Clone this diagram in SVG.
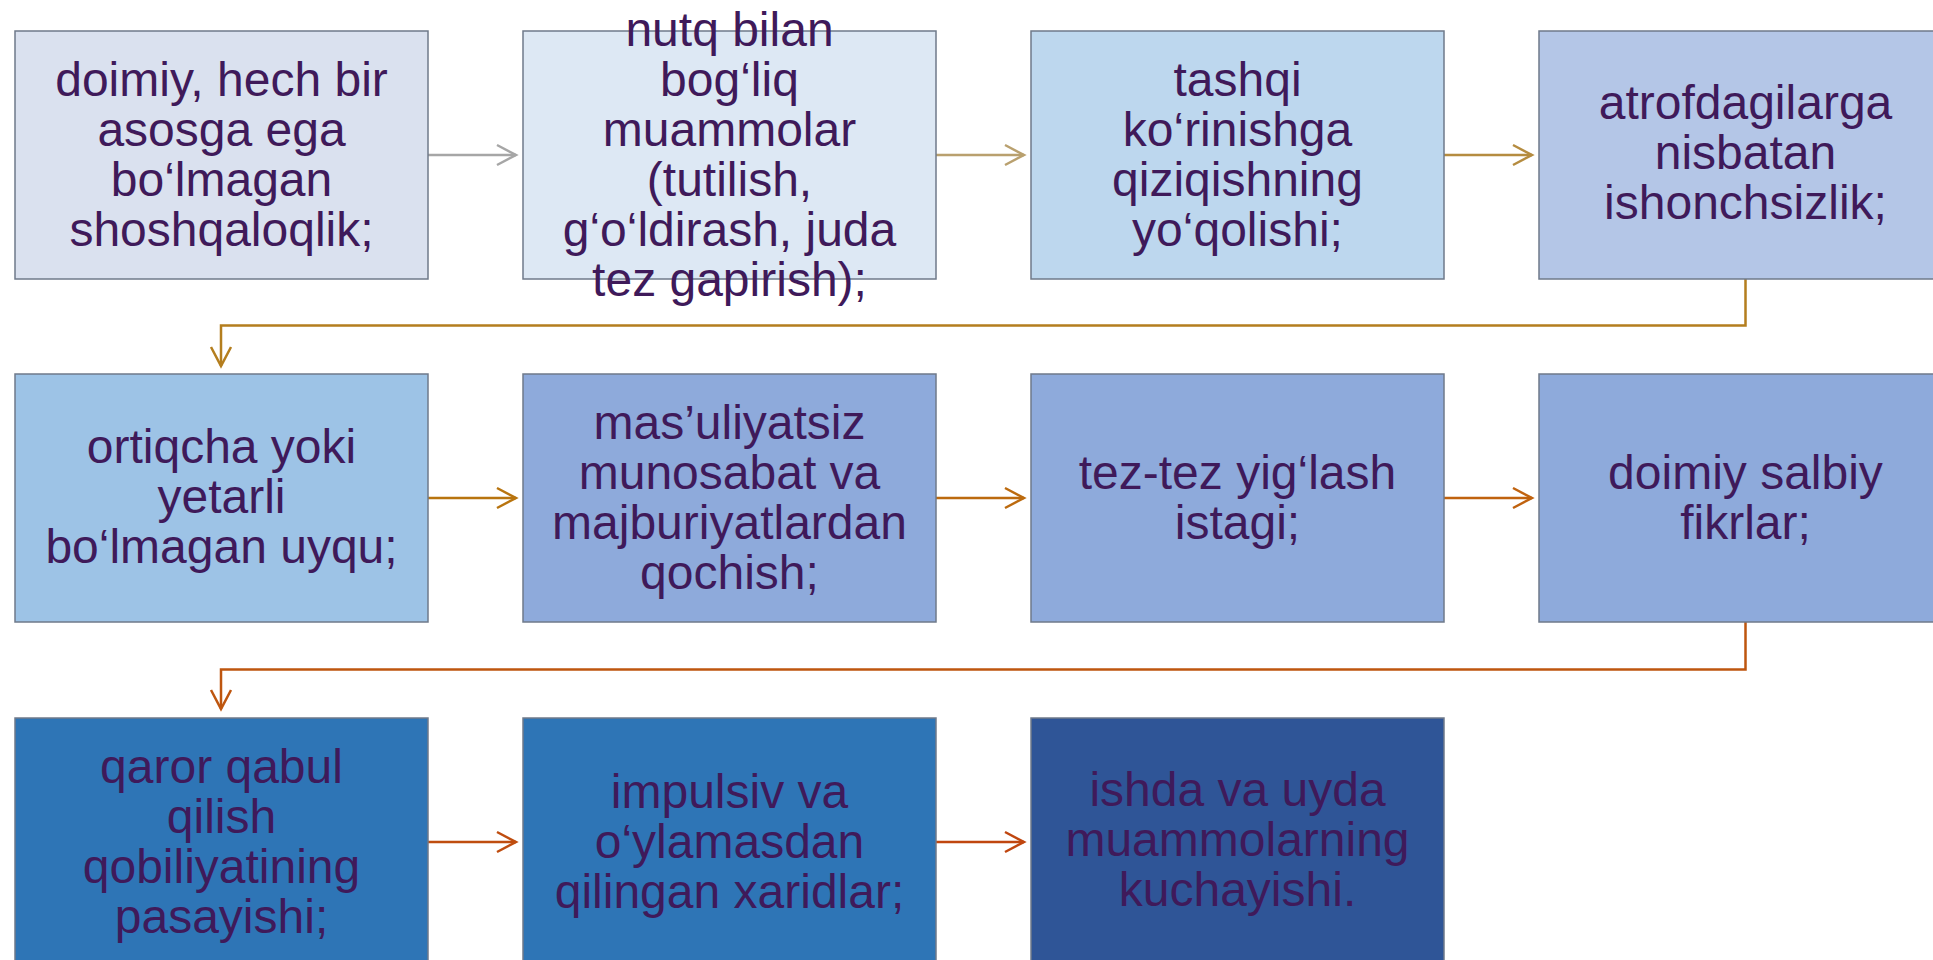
<svg xmlns="http://www.w3.org/2000/svg" width="1933" height="960" viewBox="0 0 1933 960">
<style>
.box{stroke:#6F7A8A;stroke-width:1.5}
.t{font-family:"Liberation Sans",Arial,sans-serif;font-size:48px;fill:#3F1A5A;text-anchor:middle}
.c{fill:none;stroke-width:2.5}
</style>
<defs>
<marker id="m1" markerUnits="userSpaceOnUse" markerWidth="24" markerHeight="24" refX="19" refY="10" orient="auto" overflow="visible"><path d="M0,0 L19,10 L0,20" fill="none" stroke="#A6A6A6" stroke-width="2.5"/></marker>
<marker id="m2" markerUnits="userSpaceOnUse" markerWidth="24" markerHeight="24" refX="19" refY="10" orient="auto" overflow="visible"><path d="M0,0 L19,10 L0,20" fill="none" stroke="#B9A06E" stroke-width="2.5"/></marker>
<marker id="m3" markerUnits="userSpaceOnUse" markerWidth="24" markerHeight="24" refX="19" refY="10" orient="auto" overflow="visible"><path d="M0,0 L19,10 L0,20" fill="none" stroke="#B58C40" stroke-width="2.5"/></marker>
<marker id="m4" markerUnits="userSpaceOnUse" markerWidth="24" markerHeight="24" refX="19" refY="10" orient="auto" overflow="visible"><path d="M0,0 L19,10 L0,20" fill="none" stroke="#B47E1E" stroke-width="2.5"/></marker>
<marker id="m5" markerUnits="userSpaceOnUse" markerWidth="24" markerHeight="24" refX="19" refY="10" orient="auto" overflow="visible"><path d="M0,0 L19,10 L0,20" fill="none" stroke="#B8740F" stroke-width="2.5"/></marker>
<marker id="m6" markerUnits="userSpaceOnUse" markerWidth="24" markerHeight="24" refX="19" refY="10" orient="auto" overflow="visible"><path d="M0,0 L19,10 L0,20" fill="none" stroke="#BC6A0E" stroke-width="2.5"/></marker>
<marker id="m7" markerUnits="userSpaceOnUse" markerWidth="24" markerHeight="24" refX="19" refY="10" orient="auto" overflow="visible"><path d="M0,0 L19,10 L0,20" fill="none" stroke="#C0620E" stroke-width="2.5"/></marker>
<marker id="m8" markerUnits="userSpaceOnUse" markerWidth="24" markerHeight="24" refX="19" refY="10" orient="auto" overflow="visible"><path d="M0,0 L19,10 L0,20" fill="none" stroke="#BE560F" stroke-width="2.5"/></marker>
<marker id="m9" markerUnits="userSpaceOnUse" markerWidth="24" markerHeight="24" refX="19" refY="10" orient="auto" overflow="visible"><path d="M0,0 L19,10 L0,20" fill="none" stroke="#BF4D0F" stroke-width="2.5"/></marker>
<marker id="m10" markerUnits="userSpaceOnUse" markerWidth="24" markerHeight="24" refX="19" refY="10" orient="auto" overflow="visible"><path d="M0,0 L19,10 L0,20" fill="none" stroke="#C0460F" stroke-width="2.5"/></marker>
</defs>
<rect width="1933" height="960" fill="#FFFFFF"/>

<g id="connectors">
<path class="c" d="M428,155 H516" stroke="#A6A6A6" marker-end="url(#m1)"/>
<path class="c" d="M936,155 H1024" stroke="#B9A06E" marker-end="url(#m2)"/>
<path class="c" d="M1444,155 H1532" stroke="#B58C40" marker-end="url(#m3)"/>
<path class="c" d="M1745.5,279 V325.5 H221 V366" stroke="#B47E1E" marker-end="url(#m4)"/>
<path class="c" d="M428,498 H516" stroke="#B8740F" marker-end="url(#m5)"/>
<path class="c" d="M936,498 H1024" stroke="#BC6A0E" marker-end="url(#m6)"/>
<path class="c" d="M1444,498 H1532" stroke="#C0620E" marker-end="url(#m7)"/>
<path class="c" d="M1745.5,622 V669.5 H221 V709" stroke="#BE560F" marker-end="url(#m8)"/>
<path class="c" d="M428,842 H516" stroke="#BF4D0F" marker-end="url(#m9)"/>
<path class="c" d="M936,842 H1024" stroke="#C0460F" marker-end="url(#m10)"/>
</g>

<g id="n1"><rect class="box" x="15" y="31" width="413" height="248" fill="#DAE1EF"/>
<text class="t" x="221.5" y="96"><tspan x="221.5">doimiy, hech bir</tspan><tspan x="221.5" dy="50">asosga ega</tspan><tspan x="221.5" dy="50">bo‘lmagan</tspan><tspan x="221.5" dy="50">shoshqaloqlik;</tspan></text></g>

<g id="n2"><rect class="box" x="523" y="31" width="413" height="248" fill="#DDE8F4"/>
<text class="t" x="729.5" y="46"><tspan x="729.5">nutq bilan</tspan><tspan x="729.5" dy="50">bog‘liq</tspan><tspan x="729.5" dy="50">muammolar</tspan><tspan x="729.5" dy="50">(tutilish,</tspan><tspan x="729.5" dy="50">g‘o‘ldirash, juda</tspan><tspan x="729.5" dy="50">tez gapirish);</tspan></text></g>

<g id="n3"><rect class="box" x="1031" y="31" width="413" height="248" fill="#BDD7EE"/>
<text class="t" x="1237.5" y="96"><tspan x="1237.5">tashqi</tspan><tspan x="1237.5" dy="50">ko‘rinishga</tspan><tspan x="1237.5" dy="50">qiziqishning</tspan><tspan x="1237.5" dy="50">yo‘qolishi;</tspan></text></g>

<g id="n4"><rect class="box" x="1539" y="31" width="413" height="248" fill="#B4C6E7"/>
<text class="t" x="1745.5" y="119"><tspan x="1745.5">atrofdagilarga</tspan><tspan x="1745.5" dy="50">nisbatan</tspan><tspan x="1745.5" dy="50">ishonchsizlik;</tspan></text></g>

<g id="n5"><rect class="box" x="15" y="374" width="413" height="248" fill="#9DC3E6"/>
<text class="t" x="221.5" y="463"><tspan x="221.5">ortiqcha yoki</tspan><tspan x="221.5" dy="50">yetarli</tspan><tspan x="221.5" dy="50">bo‘lmagan uyqu;</tspan></text></g>

<g id="n6"><rect class="box" x="523" y="374" width="413" height="248" fill="#8EAADB"/>
<text class="t" x="729.5" y="439"><tspan x="729.5">mas’uliyatsiz</tspan><tspan x="729.5" dy="50">munosabat va</tspan><tspan x="729.5" dy="50">majburiyatlardan</tspan><tspan x="729.5" dy="50">qochish;</tspan></text></g>

<g id="n7"><rect class="box" x="1031" y="374" width="413" height="248" fill="#8EAADB"/>
<text class="t" x="1237.5" y="489"><tspan x="1237.5">tez-tez yig‘lash</tspan><tspan x="1237.5" dy="50">istagi;</tspan></text></g>

<g id="n8"><rect class="box" x="1539" y="374" width="413" height="248" fill="#8EAADB"/>
<text class="t" x="1745.5" y="489"><tspan x="1745.5">doimiy salbiy</tspan><tspan x="1745.5" dy="50">fikrlar;</tspan></text></g>

<g id="n9"><rect class="box" x="15" y="718" width="413" height="248" fill="#2E75B6"/>
<text class="t" x="221.5" y="783"><tspan x="221.5">qaror qabul</tspan><tspan x="221.5" dy="50">qilish</tspan><tspan x="221.5" dy="50">qobiliyatining</tspan><tspan x="221.5" dy="50">pasayishi;</tspan></text></g>

<g id="n10"><rect class="box" x="523" y="718" width="413" height="248" fill="#2E75B6"/>
<text class="t" x="729.5" y="808"><tspan x="729.5">impulsiv va</tspan><tspan x="729.5" dy="50">o‘ylamasdan</tspan><tspan x="729.5" dy="50">qilingan xaridlar;</tspan></text></g>

<g id="n11"><rect class="box" x="1031" y="718" width="413" height="248" fill="#2F5597"/>
<text class="t" x="1237.5" y="806"><tspan x="1237.5">ishda va uyda</tspan><tspan x="1237.5" dy="50">muammolarning</tspan><tspan x="1237.5" dy="50">kuchayishi.</tspan></text></g>
</svg>
